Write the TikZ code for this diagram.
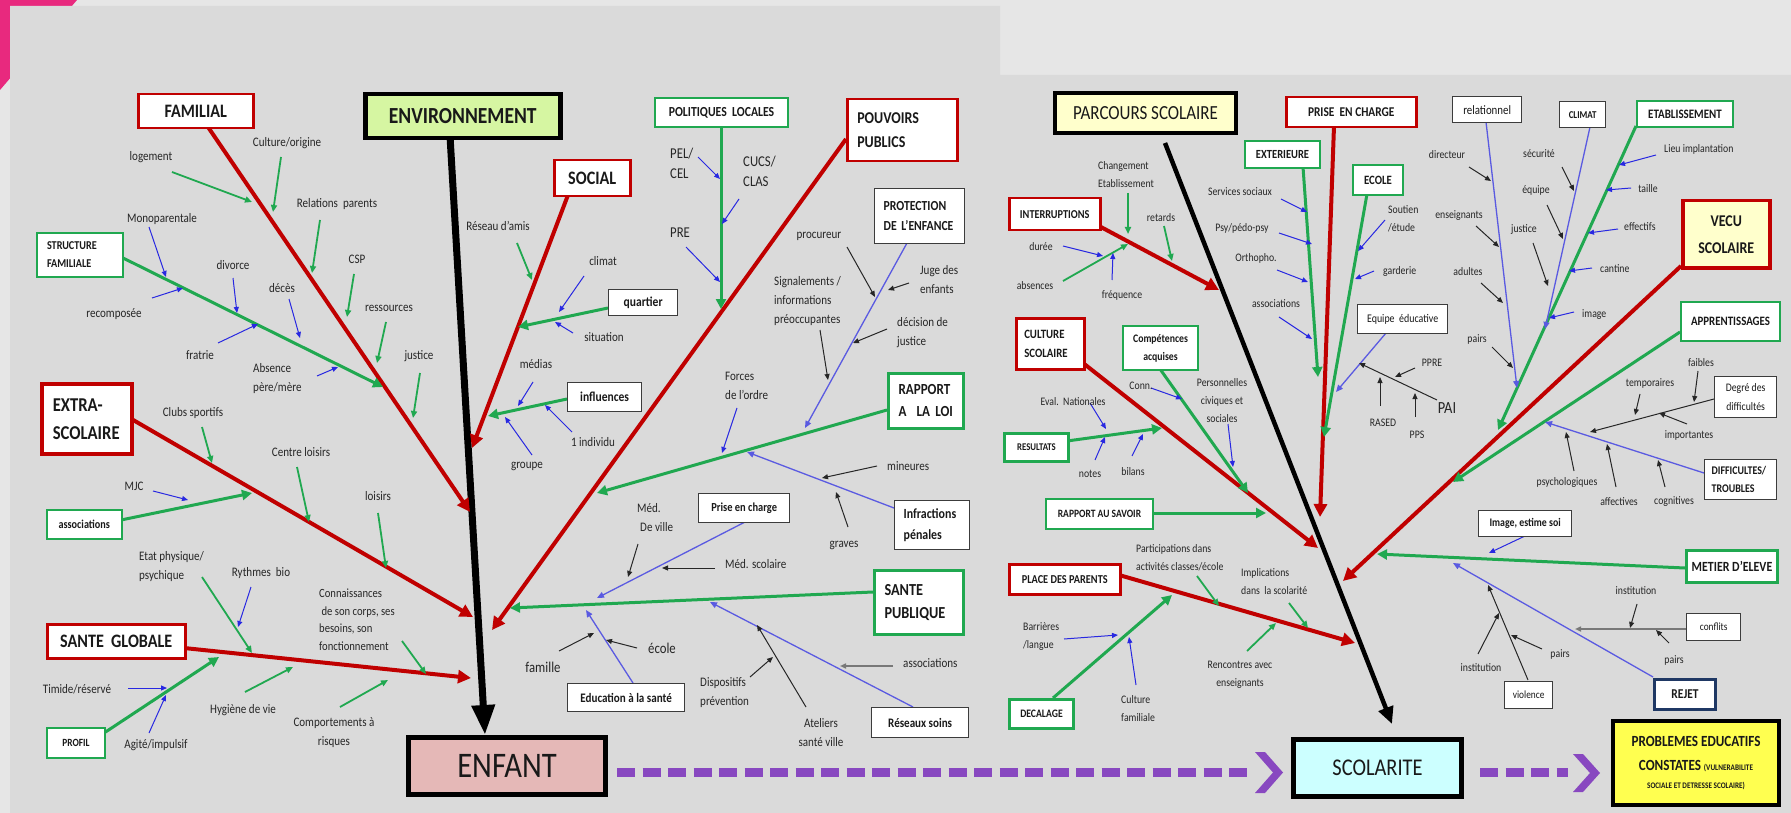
\documentclass[tikz,border=0pt]{standalone}
\usepackage{fontspec}
\setmainfont{Carlito}[FakeStretch=0.85]
\usetikzlibrary{arrows.meta}
\definecolor{cred}{RGB}{192,0,0}
\definecolor{cgreen}{RGB}{32,168,80}
\definecolor{cblue}{RGB}{40,40,225}
\definecolor{cblue2}{RGB}{90,90,225}
\definecolor{cdark}{RGB}{60,60,60}
\definecolor{cpink}{RGB}{232,41,126}
\definecolor{cpanel}{RGB}{218,218,218}
\definecolor{couter}{RGB}{230,230,230}
\definecolor{cenv}{RGB}{214,246,162}
\definecolor{cyel}{RGB}{255,255,204}
\definecolor{cenf}{RGB}{229,184,183}
\definecolor{ccyan}{RGB}{204,255,255}
\definecolor{cprob}{RGB}{255,255,80}
\definecolor{cpurp}{RGB}{136,72,192}
\definecolor{cnavy}{RGB}{31,56,100}
\definecolor{cgray}{RGB}{120,120,120}
\newcommand\myconn[4]{\coordinate (#1a) at (#2);\coordinate (#1b) at (#3);\draw[#4] (#1a) -- (#1b);}
\begin{document}
\begin{tikzpicture}[x=1pt,y=-1pt,
  L/.style={font=\fontsize{13}{19}\selectfont, inner sep=0pt, align=left, text=black!85},
  LC/.style={L, align=center},
  LB/.style={font=\fontsize{15}{20}\selectfont, inner sep=0pt, align=left, text=black!85},
  R/.style={font=\fontsize{11.5}{18}\selectfont, inner sep=0pt, align=left, text=black!85},
  RC/.style={R, align=center},
  bx/.style={anchor=north west, inner sep=0pt, fill=white, align=center, text=black!90},
  rbx/.style={bx, draw=cred, line width=2.5pt},
  gbx/.style={bx, draw=cgreen, line width=2pt},
  kbx/.style={bx, draw=cdark, line width=1.3pt},
  ra/.style={draw=cred, line width=4pt, -{Triangle[length=13pt,width=13pt]}},
  ga/.style={draw=cgreen, line width=3pt, -{Triangle[length=10pt,width=10pt]}},
  gs/.style={draw=cgreen, line width=1.8pt, -{Triangle[length=7pt,width=6pt]}},
  bs/.style={draw=cblue, line width=1pt, -{Triangle[length=6pt,width=5pt]}},
  bl/.style={draw=cblue2, line width=1.3pt, -{Triangle[length=7pt,width=6pt]}},
  ks/.style={draw=black!85, line width=1pt, -{Triangle[length=6pt,width=5pt]}},
  kg/.style={draw=cgray, line width=1.8pt, -{Triangle[length=6pt,width=5pt]}},
  kmain/.style={draw=black, line width=7pt, -{Triangle[length=30pt,width=22pt]}},
  kright/.style={draw=black, line width=4.5pt, -{Triangle[length=17pt,width=15pt]}},
  purp/.style={draw=cpurp, line width=9pt, dash pattern=on 18pt off 7.5pt}
]
\useasboundingbox (0,0) rectangle (1791,813);
\fill[couter] (0,0) rectangle (1791,813);
\fill[cpink] (0,0) -- (77,0) -- (0,90) -- cycle;
\fill[cpanel] (10,6) -- (1000,6) -- (1000,75) -- (1791,75) -- (1791,813) -- (10,813) -- cycle;

% ===== main spines
\myconn{mainL}{450,136}{485,735}{kmain}
\myconn{mainR}{1165,143}{1392,724}{kright}

% ===== red branches
\myconn{famL}{208,127}{470,512}{ra}
\myconn{socL}{568,195}{472,448}{ra}
\myconn{extL}{128,417}{473,617}{ra}
\myconn{sgL}{184,648}{471,678}{ra}
\myconn{pouL}{846,139}{492,630}{ra}
\myconn{intL}{1099,226}{1219,290}{ra}
\myconn{culL}{1083,363}{1318,548}{ra}
\myconn{ppL}{1119,575}{1355,643}{ra}
\myconn{pecL}{1334,126}{1320,517}{ra}
\myconn{vecL}{1681,266}{1343,581}{ra}

% ===== green main
\myconn{strL}{119,256}{383,387}{ga}
\myconn{assL}{121,520}{252,493}{ga}
\myconn{proL}{104,733}{219,657}{ga}
\myconn{quaL}{608,308}{518,327}{ga}
\myconn{infL}{567,399}{488,416}{ga}
\myconn{polL}{721,126}{721,309}{ga}
\myconn{rllL}{887,410}{597,493}{ga}
\myconn{spL}{873,592}{510,608}{ga}
\myconn{extrL}{1303,167}{1318,377}{ga}
\myconn{ecoL}{1367,194}{1324,437}{ga}
\myconn{etaL}{1636,126}{1498,430}{ga}
\myconn{appL}{1680,332}{1453,482}{ga}
\myconn{metL}{1685,568}{1377,554}{ga}
\myconn{comL}{1160,369}{1248,493}{ga}
\myconn{resL}{1067,441}{1162,428}{ga}
\myconn{rasL}{1152,513}{1266,513}{ga}
\myconn{decL}{1053,698}{1172,595}{ga}

% ===== green small
\myconn{g1}{172,172}{252,202}{gs}
\myconn{g2}{281,157}{273,212}{gs}
\myconn{g3}{320,220}{312,273}{gs}
\myconn{g4}{354,274}{347,317}{gs}
\myconn{g5}{386,322}{377,363}{gs}
\myconn{g6}{420,373}{413,418}{gs}
\myconn{g7}{202,427}{212,463}{gs}
\myconn{g8}{297,467}{309,522}{gs}
\myconn{g9}{378,513}{386,568}{gs}
\myconn{g10}{202,577}{252,653}{gs}
\myconn{g11}{245,692}{293,667}{gs}
\myconn{g12}{340,707}{388,680}{gs}
\myconn{g13}{402,641}{426,674}{gs}
\myconn{g14}{517,243}{532,280}{gs}
\myconn{g15}{1128,193}{1128,234}{gs}
\myconn{g16}{1164,226}{1172,261}{gs}
\myconn{g17}{1063,281}{1128,244}{gs}
\myconn{g18}{1197,576}{1219,606}{gs}
\myconn{g19}{1289,603}{1308,628}{gs}
\myconn{g20}{1247,651}{1276,623}{gs}

% ===== blue small
\myconn{b1}{149,227}{166,277}{bs}
\myconn{b2}{152,298}{183,288}{bs}
\myconn{b3}{233,278}{237,313}{bs}
\myconn{b4}{218,343}{258,324}{bs}
\myconn{b5}{289,299}{300,338}{bs}
\myconn{b6}{317,376}{338,367}{bs}
\myconn{b7}{153,491}{188,500}{bs}
\myconn{b8}{251,587}{238,627}{bs}
\myconn{b9}{128,688}{167,688}{bs}
\myconn{b10}{149,733}{166,695}{bs}
\myconn{b11}{584,276}{559,312}{bs}
\myconn{b12}{573,333}{555,322}{bs}
\myconn{b13}{533,382}{518,406}{bs}
\myconn{b14}{572,432}{545,405}{bs}
\myconn{b15}{532,455}{505,417}{bs}
\myconn{b16}{698,157}{720,179}{bs}
\myconn{b17}{739,199}{722,224}{bs}
\myconn{b18}{686,247}{720,282}{bs}
\myconn{b19}{737,408}{722,453}{bs}
\myconn{b20}{1281,199}{1307,212}{bs}
\myconn{b21}{1279,233}{1312,244}{bs}
\myconn{b22}{1277,270}{1308,282}{bs}
\myconn{b23}{1279,317}{1312,339}{bs}
\myconn{b24}{1063,246}{1103,256}{bs}
\myconn{b25}{1112,280}{1113,253}{bs}
\myconn{b26}{1151,388}{1182,399}{bs}
\myconn{b27}{1228,424}{1233,467}{bs}
\myconn{b28}{1090,403}{1106,429}{bs}
\myconn{b29}{1095,460}{1105,437}{bs}
\myconn{b30}{1132,456}{1143,434}{bs}
\myconn{b31}{1064,639}{1118,635}{bs}
\myconn{b32}{1136,685}{1129,637}{bs}
\myconn{b33}{1385,220}{1358,251}{bs}
\myconn{b34}{1374,271}{1355,279}{bs}
\myconn{b35}{1656,155}{1619,165}{bs}
\myconn{b36}{1631,188}{1606,190}{bs}
\myconn{b37}{1618,229}{1588,233}{bs}
\myconn{b38}{1592,268}{1569,271}{bs}
\myconn{b39}{1574,312}{1549,318}{bs}
\myconn{b40}{1525,536}{1489,553}{bs}

% ===== blue long
\myconn{bl1}{907,243}{805,428}{bl}
\myconn{bl2}{894,508}{747,452}{bl}
\myconn{bl3}{745,522}{597,598}{bl}
\myconn{bl4}{633,683}{586,610}{bl}
\myconn{bl5}{913,707}{710,602}{bl}
\myconn{bl6}{1486,122}{1517,388}{bl}
\myconn{bl7}{1590,127}{1545,329}{bl}
\myconn{bl8}{1386,333}{1336,392}{bl}
\myconn{bl9}{1704,473}{1545,422}{bl}
\myconn{bl10}{1653,677}{1453,563}{bl}

% ===== black small
\myconn{k1}{847,247}{875,297}{ks}
\myconn{k2}{909,283}{888,290}{ks}
\myconn{k3}{887,329}{853,343}{ks}
\myconn{k4}{820,330}{828,380}{ks}
\myconn{k5}{877,466}{822,478}{ks}
\myconn{k6}{848,527}{836,492}{ks}
\myconn{k7}{638,544}{628,577}{ks}
\myconn{k8}{715,568}{662,568}{ks}
\myconn{k9}{637,648}{606,640}{ks}
\myconn{k10}{559,651}{594,633}{ks}
\myconn{k11}{893,666}{840,666}{kg}
\myconn{k12}{806,707}{757,625}{ks}
\myconn{k13}{750,677}{773,657}{ks}
\myconn{k14}{1469,167}{1491,181}{ks}
\myconn{k15}{1476,226}{1499,247}{ks}
\myconn{k16}{1481,283}{1503,303}{ks}
\myconn{k17}{1492,347}{1513,368}{ks}
\myconn{k18}{1562,167}{1574,191}{ks}
\myconn{k19}{1547,205}{1563,239}{ks}
\myconn{k20}{1533,243}{1548,286}{ks}
\myconn{k21}{1437,400}{1359,363}{ks}
\myconn{k22}{1415,368}{1395,377}{ks}
\myconn{k23}{1380,406}{1380,377}{ks}
\myconn{k24}{1415,417}{1415,393}{ks}
\myconn{k25}{1714,399}{1590,432}{ks}
\myconn{k26}{1640,394}{1635,415}{ks}
\myconn{k27}{1698,371}{1694,402}{ks}
\myconn{k28}{1687,424}{1659,413}{ks}
\myconn{k29}{1574,471}{1566,432}{ks}
\myconn{k30}{1616,487}{1607,444}{ks}
\myconn{k31}{1665,487}{1658,460}{ks}
\myconn{k32}{1686,629}{1575,629}{kg}
\myconn{k33}{1637,604}{1630,628}{ks}
\myconn{k34}{1669,643}{1656,630}{ks}
\myconn{k35}{1528,680}{1488,585}{ks}
\myconn{k36}{1478,654}{1499,613}{ks}
\myconn{k37}{1542,649}{1511,635}{ks}

% ===== boxes (left)
\node[rbx, minimum width=115pt, minimum height=34pt, font=\bfseries\fontsize{19}{22}\selectfont] (familial) at (137,93) {FAMILIAL};
\node[bx, draw=black, line width=4.5pt, fill=cenv, minimum width=195pt, minimum height=44pt, font=\bfseries\fontsize{23}{26}\selectfont] (env) at (363,92) {ENVIRONNEMENT};
\node[rbx, minimum width=76pt, minimum height=36pt, font=\bfseries\fontsize{19}{22}\selectfont] (social) at (553,159) {SOCIAL};
\node[gbx, minimum width=133pt, minimum height=29pt, font=\bfseries\fontsize{13.8}{16}\selectfont] (polloc) at (654,97) {POLITIQUES\ \ LOCALES};
\node[rbx, minimum height=62pt, inner xsep=10pt, text width=90pt, align=left, font=\bfseries\fontsize{16.5}{24}\selectfont] (pouvoirs) at (846,98) {POUVOIRS\\PUBLICS};
\node[kbx, minimum height=55pt, inner xsep=9pt, text width=72pt, align=left, font=\bfseries\fontsize{13.8}{20}\selectfont] (protection) at (874,188) {PROTECTION\\DE L'ENFANCE};
\node[gbx, line width=3pt, minimum height=55pt, inner xsep=10pt, text width=55pt, align=left, font=\bfseries\fontsize{15.4}{22}\selectfont] (rloi) at (887,372) {RAPPORT\\A\ \ LA LOI};
\node[kbx, minimum height=49pt, inner xsep=9pt, text width=57pt, align=left, font=\bfseries\fontsize{14}{21}\selectfont] (infractions) at (894,500) {Infractions\\pénales};
\node[gbx, line width=3pt, minimum height=64pt, inner xsep=10pt, text width=69pt, align=left, font=\bfseries\fontsize{16.8}{23}\selectfont] (santepub) at (873,569) {SANTE\\PUBLIQUE};
\node[kbx, minimum width=91pt, minimum height=29pt, font=\bfseries\fontsize{12.3}{14}\selectfont] (pec) at (698,493) {Prise en charge};
\node[kbx, minimum width=117pt, minimum height=28pt, font=\bfseries\fontsize{13}{15}\selectfont] (educ) at (567,683) {Education à la santé};
\node[kbx, minimum width=97pt, minimum height=30pt, font=\bfseries\fontsize{13}{15}\selectfont] (reseaux) at (871,707) {Réseaux soins};
\node[kbx, minimum width=74pt, minimum height=29pt, font=\bfseries\fontsize{13.6}{15}\selectfont] (influences) at (567,382) {influences};
\node[kbx, minimum width=69pt, minimum height=26pt, font=\bfseries\fontsize{13.6}{15}\selectfont] (quartier) at (608,289) {quartier};
\node[gbx, minimum height=44pt, inner xsep=10pt, text width=66pt, align=left, font=\bfseries\fontsize{12}{18}\selectfont] (structure) at (36,232) {STRUCTURE\\FAMILIALE};
\node[rbx, line width=3.5pt, minimum height=70pt, inner xsep=11pt, text width=68pt, align=left, font=\bfseries\fontsize{19.6}{28}\selectfont] (extra) at (40,382) {EXTRA-\\SCOLAIRE};
\node[gbx, line width=1.5pt, minimum width=75pt, minimum height=29pt, font=\bfseries\fontsize{12}{14}\selectfont] (assoc) at (46,509) {associations};
\node[rbx, minimum width=138pt, minimum height=34pt, font=\bfseries\fontsize{19}{22}\selectfont] (sglob) at (46,623) {SANTE\ \ GLOBALE};
\node[gbx, minimum width=58pt, minimum height=30pt, font=\bfseries\fontsize{11}{13}\selectfont] (profil) at (46,727) {PROFIL};
\node[bx, draw=black, line width=5pt, fill=cenf, minimum width=197pt, minimum height=57pt, font=\fontsize{36}{40}\selectfont] (enfant) at (406,735) {ENFANT};

% ===== boxes (right)
\node[bx, draw=black, line width=4pt, fill=cyel, minimum width=181pt, minimum height=40pt, font=\fontsize{20}{24}\selectfont] (parcours) at (1053,91) {PARCOURS SCOLAIRE};
\node[rbx, minimum width=130pt, minimum height=30pt, font=\bfseries\fontsize{13.4}{16}\selectfont] (priseen) at (1285,96) {PRISE\ \ EN CHARGE};
\node[gbx, minimum width=75pt, minimum height=27pt, font=\bfseries\fontsize{12.4}{14}\selectfont] (exterieure) at (1244,140) {EXTERIEURE};
\node[rbx, minimum width=91pt, minimum height=32pt, font=\bfseries\fontsize{12.1}{14}\selectfont] (interr) at (1008,197) {INTERRUPTIONS};
\node[rbx, minimum height=51pt, inner xsep=8pt, text width=52pt, align=left, font=\bfseries\fontsize{12.7}{19}\selectfont] (cultsco) at (1015,317) {CULTURE\\SCOLAIRE};
\node[gbx, minimum width=75pt, minimum height=44pt, font=\bfseries\fontsize{11.5}{18}\selectfont] (competences) at (1122,325) {Compétences\\acquises};
\node[gbx, line width=3pt, minimum width=64pt, minimum height=28pt, font=\bfseries\fontsize{10.3}{12}\selectfont] (resultats) at (1003,432) {RESULTATS};
\node[gbx, minimum width=107pt, minimum height=30pt, font=\bfseries\fontsize{11.2}{13}\selectfont] (rsavoir) at (1045,498) {RAPPORT AU SAVOIR};
\node[rbx, minimum width=111pt, minimum height=30pt, font=\bfseries\fontsize{12.1}{14}\selectfont] (pparents) at (1008,563) {PLACE DES PARENTS};
\node[gbx, line width=3pt, minimum width=64pt, minimum height=29pt, font=\bfseries\fontsize{11.4}{13}\selectfont] (decalage) at (1008,698) {DECALAGE};
\node[gbx, minimum width=50pt, minimum height=30pt, font=\bfseries\fontsize{12.7}{15}\selectfont] (ecole) at (1352,164) {ECOLE};
\node[kbx, minimum width=90pt, minimum height=29pt, font=\fontsize{11.7}{14}\selectfont] (equipe) at (1357,304) {Equipe\ \ éducative};
\node[kbx, minimum width=69pt, minimum height=26pt, font=\fontsize{12.8}{15}\selectfont] (relationnel) at (1452,96) {relationnel};
\node[kbx, minimum width=46pt, minimum height=26pt, font=\bfseries\fontsize{10.5}{12}\selectfont] (climatbox) at (1559,101) {CLIMAT};
\node[gbx, minimum width=96pt, minimum height=26pt, font=\bfseries\fontsize{12.9}{15}\selectfont] (etab) at (1636,100) {ETABLISSEMENT};
\node[rbx, line width=3.5pt, fill=cyel, minimum width=87pt, minimum height=67pt, font=\bfseries\fontsize{16.4}{27}\selectfont] (vecu) at (1681,199) {VECU\\SCOLAIRE};
\node[gbx, minimum width=99pt, minimum height=39pt, font=\bfseries\fontsize{12.8}{15}\selectfont] (apprent) at (1680,301) {APPRENTISSAGES};
\node[kbx, minimum width=62pt, minimum height=41pt, font=\fontsize{11.5}{19}\selectfont] (degre) at (1714,376) {Degré des\\difficultés};
\node[kbx, minimum height=40pt, inner xsep=7pt, text width=58pt, align=left, font=\bfseries\fontsize{11.7}{18}\selectfont] (difficultes) at (1704,459) {DIFFICULTES/\\TROUBLES};
\node[kbx, minimum width=93pt, minimum height=26pt, font=\bfseries\fontsize{11.6}{14}\selectfont] (imagebox) at (1478,510) {Image, estime soi};
\node[gbx, line width=3pt, minimum width=91pt, minimum height=32pt, font=\bfseries\fontsize{14}{16}\selectfont] (metier) at (1685,549) {METIER D'ELEVE};
\node[kbx, minimum width=54pt, minimum height=27pt, font=\fontsize{11}{13}\selectfont] (conflits) at (1686,613) {conflits};
\node[kbx, minimum width=48pt, minimum height=27pt, font=\fontsize{11}{13}\selectfont] (violence) at (1504,681) {violence};
\node[bx, draw=cnavy, line width=3pt, minimum width=61pt, minimum height=30pt, font=\bfseries\fontsize{13.5}{15}\selectfont] (rejet) at (1653,678) {REJET};
\node[bx, draw=black, line width=5pt, fill=ccyan, minimum width=168pt, minimum height=57pt, font=\fontsize{24}{28}\selectfont] (scolarite) at (1291,737) {SCOLARITE};
\node[bx, draw=black, line width=4pt, fill=cprob, minimum width=166pt, minimum height=84pt, font=\bfseries\fontsize{15.5}{24}\selectfont] (problemes) at (1611,719) {PROBLEMES EDUCATIFS\\CONSTATES {\fontsize{8.5}{10}\selectfont (VULNERABILITE}\\[-6pt]{\fontsize{8.5}{10}\selectfont SOCIALE ET DETRESSE SCOLAIRE)}};

% ===== purple dashed arrows
\coordinate (pa1) at (617,772.5);
\coordinate (pa2) at (1252,772.5);
\draw[purp] (pa1) -- (pa2);
\fill[cpurp] (1255,752) -- (1265,752) -- (1283,772.5) -- (1265,793) -- (1255,793) -- (1273,772.5) -- cycle;
\coordinate (pb1) at (1480,772.5);
\coordinate (pb2) at (1568,772.5);
\draw[purp] (pb1) -- (pb2);
\fill[cpurp] (1573,754) -- (1583,754) -- (1600,773) -- (1583,792) -- (1573,792) -- (1590,773) -- cycle;

% ===== labels left
\node[L] (t1) at (151,157) {logement};
\node[L] (t2) at (287,143) {Culture/origine};
\node[L] (t3) at (337,204) {Relations\ \ parents};
\node[L] (t4) at (162,219) {Monoparentale};
\node[L] (t5) at (233,265) {divorce};
\node[L] (t6) at (282,288) {décès};
\node[L] (t7) at (357,259) {CSP};
\node[L] (t8) at (389,308) {ressources};
\node[L] (t9) at (114,314) {recomposée};
\node[L] (t10) at (200,355) {fratrie};
\node[L, anchor=west] (t11) at (253,378.5) {Absence\\père/mère};
\node[L] (t12) at (419,356) {justice};
\node[L] (t13) at (193,413) {Clubs sportifs};
\node[L] (t14) at (301,452) {Centre loisirs};
\node[L] (t15) at (378,496) {loisirs};
\node[L] (t16) at (134,486) {MJC};
\node[L, anchor=west] (t17) at (139,566.5) {Etat physique/\\psychique};
\node[L] (t18) at (261,573) {Rythmes\ \ bio};
\node[font=\fontsize{12.5}{17.5}\selectfont, inner sep=0pt, align=left, text=black!85, anchor=west] (t19) at (319,619.5) {Connaissances\\\ de son corps, ses\\besoins, son\\fonctionnement};
\node[L] (t20) at (77,689) {Timide/réservé};
\node[L] (t21) at (156,745) {Agité/impulsif};
\node[L] (t22) at (243,710) {Hygiène de vie};
\node[LC] (t23) at (334,732.5) {Comportements à\\risques};
\node[L] (t24) at (498,226) {Réseau d'amis};
\node[L] (t25) at (603,261) {climat};
\node[L] (t26) at (604,337) {situation};
\node[L] (t27) at (536,364) {médias};
\node[L] (t28) at (593,442) {1 individu};
\node[L] (t29) at (527,466) {groupe};
\node[LB, anchor=west] (t30) at (670,163) {PEL/\\CEL};
\node[LB, anchor=west] (t31) at (743,171.5) {CUCS/\\CLAS};
\node[LB, anchor=west] (t32) at (670,233) {PRE};
\node[L] (t33) at (819,236) {procureur};
\node[L, anchor=west] (t34) at (774,301.5) {Signalements /\\informations\\préoccupantes};
\node[L, anchor=west] (t35) at (920,279.5) {Juge des\\enfants};
\node[L, anchor=west] (t36) at (897,333) {décision de\\justice};
\node[L, anchor=west] (t37) at (725,386) {Forces\\de l'ordre};
\node[L, anchor=west] (t38) at (887,466) {mineures};
\node[L] (t39) at (844,545) {graves};
\node[L, anchor=west] (t40) at (637,518) {Méd.\\\hspace{3pt}De ville};
\node[L, anchor=west] (t41) at (725,564) {Méd. scolaire};
\node[LB] (t42) at (662,648) {école};
\node[LB] (t43) at (543,667) {famille};
\node[L, anchor=west] (t44) at (700,692.5) {Dispositifs\\prévention};
\node[LC] (t45) at (821,733) {Ateliers\\santé ville};
\node[L, anchor=west] (t46) at (903,663) {associations};

% ===== labels right
\node[R, anchor=west] (r1) at (1098,175) {Changement\\Etablissement};
\node[R] (r2) at (1161,218) {retards};
\node[R] (r3) at (1041,247) {durée};
\node[R] (r4) at (1035,286) {absences};
\node[R] (r5) at (1122,295) {fréquence};
\node[R] (r6) at (1240,192) {Services sociaux};
\node[R] (r7) at (1242,228) {Psy/pédo-psy};
\node[R] (r8) at (1256,258) {Orthopho.};
\node[R] (r9) at (1276,304) {associations};
\node[R] (r10) at (1141,386) {Conn.};
\node[RC] (r11) at (1222,401) {Personnelles\\civiques et\\sociales};
\node[R] (r12) at (1073,402) {Eval.\ \ Nationales};
\node[R] (r13) at (1090,474) {notes};
\node[R] (r14) at (1133,472) {bilans};
\node[R, anchor=west] (r15) at (1136,558) {Participations dans\\activités classes/école};
\node[R, anchor=west] (r16) at (1241,582) {Implications\\dans\ \ la scolarité};
\node[RC] (r17) at (1240,674.5) {Rencontres avec\\enseignants};
\node[R, anchor=west] (r18) at (1023,636.5) {Barrières\\/langue};
\node[R, anchor=west] (r19) at (1121,709) {Culture\\familiale};
\node[R, anchor=west] (r20) at (1388,219) {Soutien\\/étude};
\node[R, anchor=west] (r21) at (1383,271) {garderie};
\node[R] (r22) at (1432,363) {PPRE};
\node[R] (r23) at (1383,423) {RASED};
\node[R] (r24) at (1417,435) {PPS};
\node[font=\fontsize{17}{20}\selectfont, inner sep=0pt, text=black!85] (r25) at (1447,408) {PAI};
\node[R] (r26) at (1447,155) {directeur};
\node[R] (r27) at (1459,216) {enseignants};
\node[R] (r28) at (1468,272) {adultes};
\node[R] (r29) at (1477,339) {pairs};
\node[R] (r30) at (1539,154) {sécurité};
\node[R] (r31) at (1536,190) {équipe};
\node[R] (r32) at (1524,230) {justice};
\node[R, anchor=west] (r33) at (1664,149) {Lieu implantation};
\node[R] (r34) at (1648,189) {taille};
\node[R, anchor=west] (r35) at (1624,227) {effectifs};
\node[R, anchor=west] (r36) at (1600,269) {cantine};
\node[R, anchor=west] (r37) at (1582,315) {image};
\node[R] (r38) at (1701,363) {faibles};
\node[R] (r39) at (1650,383) {temporaires};
\node[R] (r40) at (1689,435) {importantes};
\node[R] (r41) at (1567,482) {psychologiques};
\node[R] (r42) at (1619,502) {affectives};
\node[R] (r43) at (1674,502) {cognitives};
\node[R] (r44) at (1636,591) {institution};
\node[R] (r45) at (1674,660) {pairs};
\node[R] (r46) at (1481,668) {institution};
\node[R] (r47) at (1560,654) {pairs};
\end{tikzpicture}
\end{document}
